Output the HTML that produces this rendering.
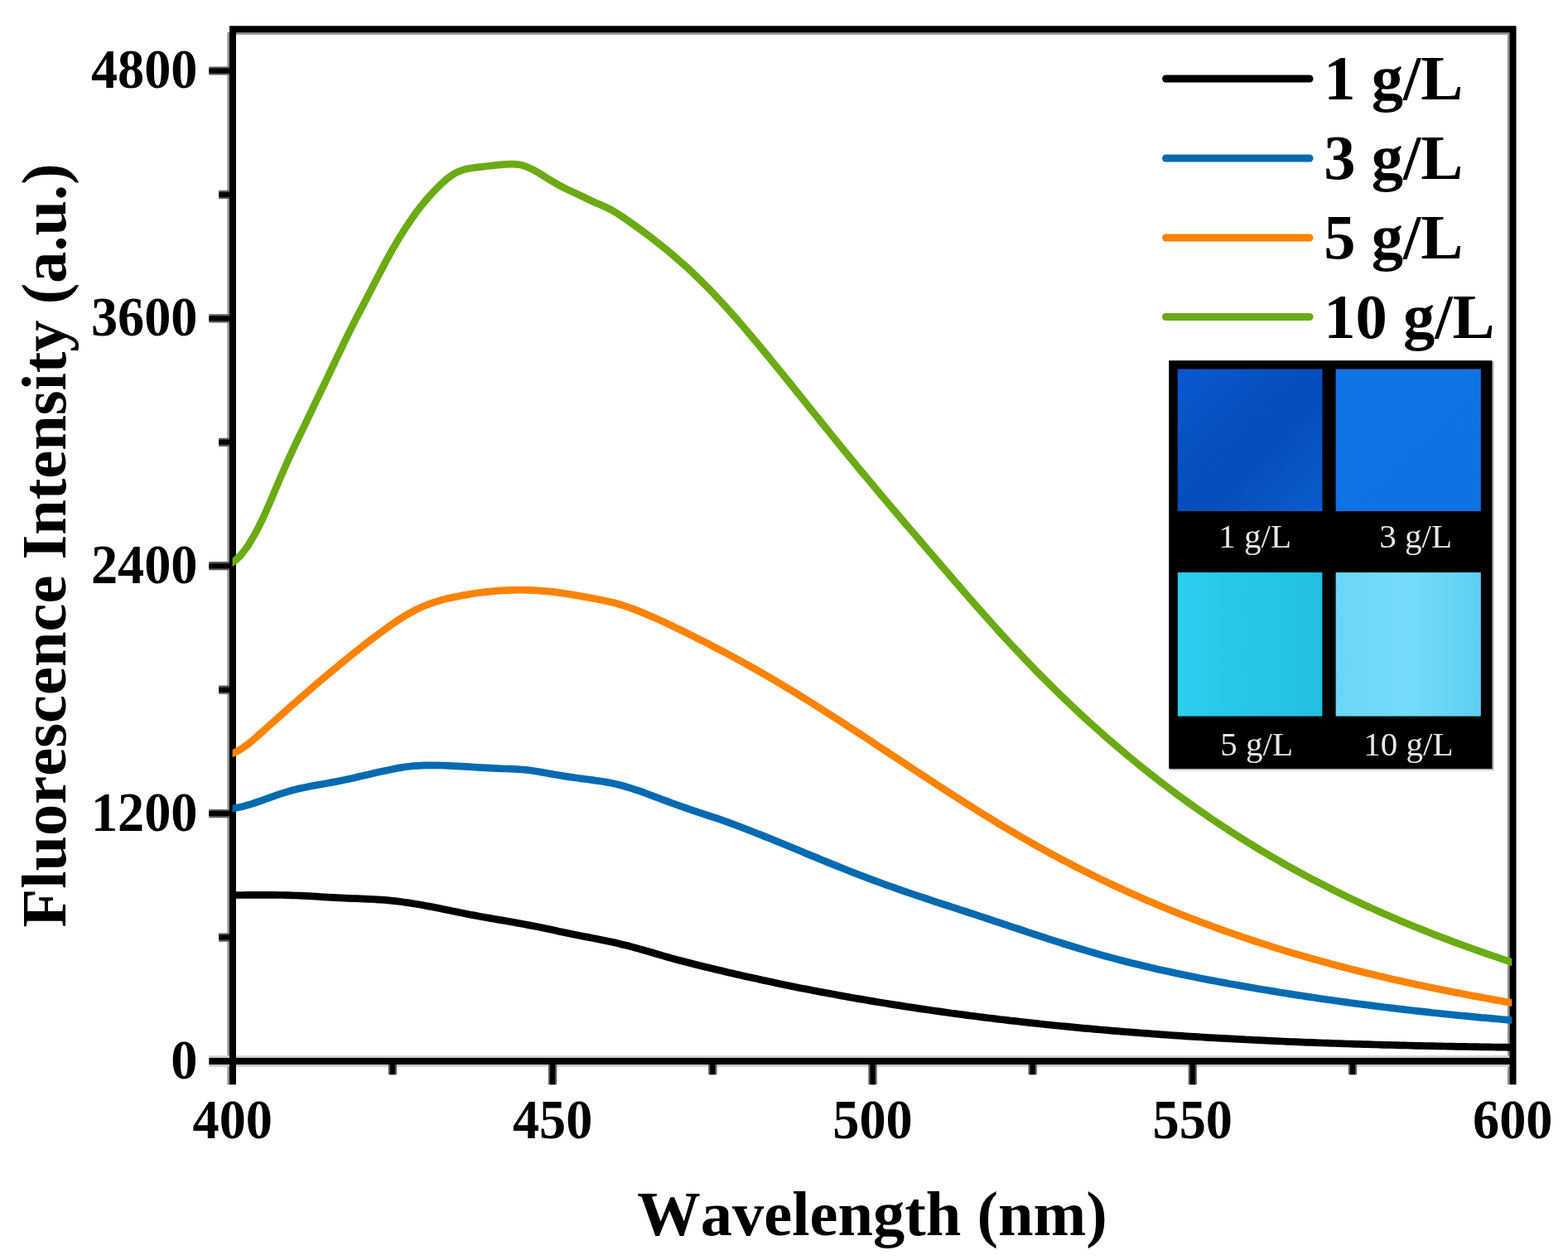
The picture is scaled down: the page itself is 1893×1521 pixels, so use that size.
<!DOCTYPE html>
<html lang="en">
<head>
<meta charset="utf-8">
<title>Fluorescence spectra</title>
<style>
html,body{margin:0;padding:0;background:#fff;}
body{width:1893px;height:1521px;overflow:hidden;position:relative;}
svg{display:block;position:absolute;left:0;top:0;filter:blur(0.6px);}
text{font-family:"Liberation Serif","Times New Roman",serif;font-kerning:none;}
.b{font-weight:bold;fill:#000;}
.tk{font-size:66.6px;}
.ti{font-size:76.5px;}
.lg{font-size:76.5px;}
.in{font-size:41px;fill:#e6e6e6;font-weight:normal;}
</style>
</head>
<body>
<svg width="1893" height="1521" viewBox="0 0 1893 1521">
<rect x="0" y="0" width="1893" height="1521" fill="#ffffff"/>

<g fill="#8f9292">
<rect x="274.4" y="39" width="2.6" height="1270.3"/>
<rect x="285" y="39.2" width="1537.5" height="2.6"/>
<rect x="1820" y="39.2" width="2.6" height="1270.1"/>
<rect x="252.3" y="1274.2" width="1570.2" height="3.2" fill="#d0d0d0"/>
<rect x="252.3" y="1284.6" width="1578.2" height="3.0" fill="#c8c8c8"/>
</g>
<g stroke="#000" stroke-width="8.0" fill="none" stroke-linecap="butt">
<path d="M252.3,982.1H281.0M252.3,683.2H281.0M252.3,384.4H281.0M252.3,85.5H281.0M264.2,1131.6H281.0M264.2,832.7H281.0M264.2,533.8H281.0M264.2,234.9H281.0M667.1,1281.0V1309.3M1053.5,1281.0V1309.3M1439.8,1281.0V1309.3M473.9,1281.0V1297.3M860.3,1281.0V1297.3M1246.6,1281.0V1297.3M1633.0,1281.0V1297.3" stroke="#5a5a55" stroke-width="10.2"/>
<path d="M252.3,982.1H281.0M252.3,683.2H281.0M252.3,384.4H281.0M252.3,85.5H281.0M264.2,1131.6H281.0M264.2,832.7H281.0M264.2,533.8H281.0M264.2,234.9H281.0M667.1,1281.0V1309.3M1053.5,1281.0V1309.3M1439.8,1281.0V1309.3M473.9,1281.0V1297.3M860.3,1281.0V1297.3M1246.6,1281.0V1297.3M1633.0,1281.0V1297.3" stroke="#000" stroke-width="6"/>
<path d="M281.0,1309.3V35.3H1826.5V1309.3M252.3,1281.0H1826.5" stroke-linejoin="miter"/>
</g>
<clipPath id="cp"><rect x="280.6" y="30" width="1544.6" height="1260"/></clipPath>
<g fill="none" stroke-width="8.7" stroke-linejoin="round" stroke-linecap="butt" clip-path="url(#cp)">
<path stroke="#000000" d="M274.0,1080.7 L278.9,1080.6 L283.8,1080.6 L288.7,1080.5 L293.5,1080.5 L298.4,1080.4 L303.3,1080.4 L308.2,1080.3 L313.1,1080.3 L318.0,1080.3 L322.8,1080.3 L327.7,1080.3 L332.6,1080.4 L337.5,1080.5 L342.4,1080.5 L347.3,1080.7 L352.1,1080.8 L357.0,1081.0 L361.9,1081.2 L366.8,1081.4 L371.7,1081.7 L376.6,1081.9 L381.4,1082.2 L386.3,1082.5 L391.2,1082.8 L396.1,1083.1 L401.0,1083.4 L405.9,1083.7 L410.8,1083.9 L415.6,1084.2 L420.5,1084.4 L425.4,1084.6 L430.3,1084.7 L435.2,1084.9 L440.1,1085.1 L444.9,1085.3 L449.8,1085.5 L454.7,1085.8 L459.6,1086.1 L464.5,1086.4 L469.4,1086.9 L474.2,1087.4 L479.1,1087.9 L484.0,1088.5 L488.9,1089.2 L493.8,1089.9 L498.7,1090.7 L503.5,1091.5 L508.4,1092.3 L513.3,1093.2 L518.2,1094.1 L523.1,1095.1 L528.0,1096.1 L532.9,1097.1 L537.7,1098.1 L542.6,1099.1 L547.5,1100.1 L552.4,1101.1 L557.3,1102.0 L562.2,1103.0 L567.0,1104.0 L571.9,1104.9 L576.8,1105.8 L581.7,1106.7 L586.6,1107.5 L591.5,1108.4 L596.3,1109.2 L601.2,1110.1 L606.1,1110.9 L611.0,1111.8 L615.9,1112.6 L620.8,1113.5 L625.6,1114.4 L630.5,1115.2 L635.4,1116.2 L640.3,1117.1 L645.2,1118.0 L650.1,1119.0 L655.0,1120.0 L659.8,1121.1 L664.7,1122.1 L669.6,1123.1 L674.5,1124.2 L679.4,1125.2 L684.3,1126.3 L689.1,1127.3 L694.0,1128.3 L698.9,1129.2 L703.8,1130.2 L708.7,1131.1 L713.6,1132.1 L718.4,1133.0 L723.3,1134.0 L728.2,1135.0 L733.1,1136.0 L738.0,1137.0 L742.9,1138.1 L747.7,1139.2 L752.6,1140.4 L757.5,1141.6 L762.4,1142.9 L767.3,1144.2 L772.2,1145.6 L777.1,1147.0 L781.9,1148.4 L786.8,1149.8 L791.7,1151.2 L796.6,1152.7 L801.5,1154.1 L806.4,1155.5 L811.2,1156.9 L816.1,1158.2 L821.0,1159.5 L825.9,1160.8 L830.8,1162.0 L835.7,1163.3 L840.5,1164.5 L845.4,1165.7 L850.3,1166.9 L855.2,1168.1 L860.1,1169.3 L865.0,1170.5 L869.8,1171.6 L874.7,1172.8 L879.6,1173.9 L884.5,1175.0 L889.4,1176.2 L894.3,1177.3 L899.2,1178.4 L904.0,1179.5 L908.9,1180.6 L913.8,1181.6 L918.7,1182.7 L923.6,1183.8 L928.5,1184.8 L933.3,1185.8 L938.2,1186.9 L943.1,1187.9 L948.0,1188.9 L952.9,1189.9 L957.8,1190.9 L962.6,1191.9 L967.5,1192.9 L972.4,1193.8 L977.3,1194.8 L982.2,1195.7 L987.1,1196.7 L991.9,1197.6 L996.8,1198.5 L1001.7,1199.4 L1006.6,1200.3 L1011.5,1201.2 L1016.4,1202.1 L1021.3,1203.0 L1026.1,1203.9 L1031.0,1204.7 L1035.9,1205.6 L1040.8,1206.4 L1045.7,1207.2 L1050.6,1208.1 L1055.4,1208.9 L1060.3,1209.7 L1065.2,1210.5 L1070.1,1211.3 L1075.0,1212.1 L1079.9,1212.9 L1084.7,1213.6 L1089.6,1214.4 L1094.5,1215.2 L1099.4,1215.9 L1104.3,1216.6 L1109.2,1217.4 L1114.1,1218.1 L1118.9,1218.8 L1123.8,1219.5 L1128.7,1220.2 L1133.6,1220.9 L1138.5,1221.6 L1143.4,1222.3 L1148.2,1223.0 L1153.1,1223.6 L1158.0,1224.3 L1162.9,1224.9 L1167.8,1225.6 L1172.7,1226.2 L1177.5,1226.8 L1182.4,1227.5 L1187.3,1228.1 L1192.2,1228.7 L1197.1,1229.3 L1202.0,1229.9 L1206.8,1230.5 L1211.7,1231.0 L1216.6,1231.6 L1221.5,1232.2 L1226.4,1232.7 L1231.3,1233.3 L1236.2,1233.8 L1241.0,1234.4 L1245.9,1234.9 L1250.8,1235.4 L1255.7,1236.0 L1260.6,1236.5 L1265.5,1237.0 L1270.3,1237.5 L1275.2,1238.0 L1280.1,1238.5 L1285.0,1238.9 L1289.9,1239.4 L1294.8,1239.9 L1299.6,1240.3 L1304.5,1240.8 L1309.4,1241.3 L1314.3,1241.7 L1319.2,1242.1 L1324.1,1242.6 L1328.9,1243.0 L1333.8,1243.4 L1338.7,1243.9 L1343.6,1244.3 L1348.5,1244.7 L1353.4,1245.1 L1358.3,1245.5 L1363.1,1245.9 L1368.0,1246.2 L1372.9,1246.6 L1377.8,1247.0 L1382.7,1247.4 L1387.6,1247.7 L1392.4,1248.1 L1397.3,1248.4 L1402.2,1248.8 L1407.1,1249.1 L1412.0,1249.5 L1416.9,1249.8 L1421.7,1250.1 L1426.6,1250.4 L1431.5,1250.8 L1436.4,1251.1 L1441.3,1251.4 L1446.2,1251.7 L1451.0,1252.0 L1455.9,1252.3 L1460.8,1252.6 L1465.7,1252.9 L1470.6,1253.1 L1475.5,1253.4 L1480.4,1253.7 L1485.2,1253.9 L1490.1,1254.2 L1495.0,1254.5 L1499.9,1254.7 L1504.8,1255.0 L1509.7,1255.2 L1514.5,1255.5 L1519.4,1255.7 L1524.3,1255.9 L1529.2,1256.2 L1534.1,1256.4 L1539.0,1256.6 L1543.8,1256.8 L1548.7,1257.0 L1553.6,1257.3 L1558.5,1257.5 L1563.4,1257.7 L1568.3,1257.9 L1573.1,1258.1 L1578.0,1258.3 L1582.9,1258.4 L1587.8,1258.6 L1592.7,1258.8 L1597.6,1259.0 L1602.5,1259.2 L1607.3,1259.3 L1612.2,1259.5 L1617.1,1259.7 L1622.0,1259.8 L1626.9,1260.0 L1631.8,1260.1 L1636.6,1260.3 L1641.5,1260.4 L1646.4,1260.6 L1651.3,1260.7 L1656.2,1260.9 L1661.1,1261.0 L1665.9,1261.2 L1670.8,1261.3 L1675.7,1261.4 L1680.6,1261.5 L1685.5,1261.7 L1690.4,1261.8 L1695.2,1261.9 L1700.1,1262.0 L1705.0,1262.1 L1709.9,1262.3 L1714.8,1262.4 L1719.7,1262.5 L1724.6,1262.6 L1729.4,1262.7 L1734.3,1262.8 L1739.2,1262.9 L1744.1,1263.0 L1749.0,1263.1 L1753.9,1263.2 L1758.7,1263.3 L1763.6,1263.4 L1768.5,1263.4 L1773.4,1263.5 L1778.3,1263.6 L1783.2,1263.7 L1788.0,1263.8 L1792.9,1263.9 L1797.8,1263.9 L1802.7,1264.0 L1807.6,1264.1 L1812.5,1264.2 L1817.3,1264.2 L1822.2,1264.3 L1827.1,1264.4 L1832.0,1264.4"/>
<path stroke="#036ab2" d="M274.0,976.9 L278.9,976.2 L283.8,975.5 L288.7,974.5 L293.5,973.4 L298.4,972.0 L303.3,970.6 L308.2,969.0 L313.1,967.3 L318.0,965.6 L322.8,963.8 L327.7,962.1 L332.6,960.3 L337.5,958.6 L342.4,957.1 L347.3,955.6 L352.1,954.2 L357.0,953.0 L361.9,951.8 L366.8,950.8 L371.7,949.8 L376.6,948.8 L381.4,947.9 L386.3,947.0 L391.2,946.2 L396.1,945.3 L401.0,944.4 L405.9,943.5 L410.8,942.5 L415.6,941.5 L420.5,940.4 L425.4,939.4 L430.3,938.3 L435.2,937.1 L440.1,936.0 L444.9,934.9 L449.8,933.7 L454.7,932.6 L459.6,931.5 L464.5,930.4 L469.4,929.4 L474.2,928.4 L479.1,927.4 L484.0,926.6 L488.9,925.8 L493.8,925.2 L498.7,924.7 L503.5,924.3 L508.4,924.1 L513.3,923.9 L518.2,923.8 L523.1,923.8 L528.0,923.9 L532.9,924.0 L537.7,924.2 L542.6,924.4 L547.5,924.6 L552.4,924.9 L557.3,925.1 L562.2,925.4 L567.0,925.7 L571.9,926.0 L576.8,926.3 L581.7,926.6 L586.6,926.9 L591.5,927.1 L596.3,927.4 L601.2,927.6 L606.1,927.8 L611.0,928.0 L615.9,928.1 L620.8,928.4 L625.6,928.6 L630.5,929.0 L635.4,929.4 L640.3,930.0 L645.2,930.7 L650.1,931.5 L655.0,932.4 L659.8,933.2 L664.7,934.1 L669.6,935.0 L674.5,935.8 L679.4,936.6 L684.3,937.4 L689.1,938.1 L694.0,938.8 L698.9,939.5 L703.8,940.1 L708.7,940.8 L713.6,941.4 L718.4,942.1 L723.3,942.8 L728.2,943.5 L733.1,944.4 L738.0,945.3 L742.9,946.3 L747.7,947.5 L752.6,948.8 L757.5,950.2 L762.4,951.7 L767.3,953.3 L772.2,954.9 L777.1,956.7 L781.9,958.5 L786.8,960.3 L791.7,962.1 L796.6,964.0 L801.5,965.8 L806.4,967.6 L811.2,969.5 L816.1,971.2 L821.0,973.0 L825.9,974.7 L830.8,976.4 L835.7,978.1 L840.5,979.7 L845.4,981.3 L850.3,982.9 L855.2,984.5 L860.1,986.1 L865.0,987.7 L869.8,989.4 L874.7,991.1 L879.6,992.9 L884.5,994.7 L889.4,996.5 L894.3,998.4 L899.2,1000.3 L904.0,1002.1 L908.9,1004.0 L913.8,1006.0 L918.7,1007.9 L923.6,1009.9 L928.5,1011.8 L933.3,1013.8 L938.2,1015.8 L943.1,1017.8 L948.0,1019.8 L952.9,1021.8 L957.8,1023.8 L962.6,1025.8 L967.5,1027.8 L972.4,1029.9 L977.3,1031.9 L982.2,1033.9 L987.1,1035.9 L991.9,1037.9 L996.8,1039.9 L1001.7,1041.9 L1006.6,1043.9 L1011.5,1045.9 L1016.4,1047.8 L1021.3,1049.8 L1026.1,1051.7 L1031.0,1053.6 L1035.9,1055.5 L1040.8,1057.4 L1045.7,1059.3 L1050.6,1061.1 L1055.4,1062.9 L1060.3,1064.7 L1065.2,1066.5 L1070.1,1068.3 L1075.0,1070.0 L1079.9,1071.7 L1084.7,1073.4 L1089.6,1075.1 L1094.5,1076.8 L1099.4,1078.5 L1104.3,1080.1 L1109.2,1081.8 L1114.1,1083.4 L1118.9,1085.0 L1123.8,1086.6 L1128.7,1088.3 L1133.6,1089.9 L1138.5,1091.5 L1143.4,1093.0 L1148.2,1094.6 L1153.1,1096.2 L1158.0,1097.8 L1162.9,1099.4 L1167.8,1101.0 L1172.7,1102.6 L1177.5,1104.2 L1182.4,1105.8 L1187.3,1107.4 L1192.2,1109.0 L1197.1,1110.7 L1202.0,1112.3 L1206.8,1113.9 L1211.7,1115.5 L1216.6,1117.2 L1221.5,1118.8 L1226.4,1120.4 L1231.3,1122.0 L1236.2,1123.7 L1241.0,1125.3 L1245.9,1126.9 L1250.8,1128.5 L1255.7,1130.1 L1260.6,1131.7 L1265.5,1133.3 L1270.3,1134.8 L1275.2,1136.4 L1280.1,1137.9 L1285.0,1139.5 L1289.9,1141.0 L1294.8,1142.5 L1299.6,1144.0 L1304.5,1145.5 L1309.4,1146.9 L1314.3,1148.4 L1319.2,1149.8 L1324.1,1151.2 L1328.9,1152.6 L1333.8,1154.0 L1338.7,1155.3 L1343.6,1156.6 L1348.5,1157.9 L1353.4,1159.2 L1358.3,1160.5 L1363.1,1161.7 L1368.0,1162.9 L1372.9,1164.1 L1377.8,1165.3 L1382.7,1166.5 L1387.6,1167.6 L1392.4,1168.8 L1397.3,1169.9 L1402.2,1171.0 L1407.1,1172.1 L1412.0,1173.1 L1416.9,1174.2 L1421.7,1175.2 L1426.6,1176.3 L1431.5,1177.3 L1436.4,1178.3 L1441.3,1179.3 L1446.2,1180.2 L1451.0,1181.2 L1455.9,1182.2 L1460.8,1183.1 L1465.7,1184.0 L1470.6,1185.0 L1475.5,1185.9 L1480.4,1186.8 L1485.2,1187.7 L1490.1,1188.5 L1495.0,1189.4 L1499.9,1190.3 L1504.8,1191.1 L1509.7,1192.0 L1514.5,1192.8 L1519.4,1193.7 L1524.3,1194.5 L1529.2,1195.3 L1534.1,1196.1 L1539.0,1196.9 L1543.8,1197.7 L1548.7,1198.5 L1553.6,1199.3 L1558.5,1200.1 L1563.4,1200.8 L1568.3,1201.6 L1573.1,1202.3 L1578.0,1203.1 L1582.9,1203.8 L1587.8,1204.5 L1592.7,1205.2 L1597.6,1206.0 L1602.5,1206.7 L1607.3,1207.3 L1612.2,1208.0 L1617.1,1208.7 L1622.0,1209.4 L1626.9,1210.1 L1631.8,1210.7 L1636.6,1211.4 L1641.5,1212.0 L1646.4,1212.6 L1651.3,1213.3 L1656.2,1213.9 L1661.1,1214.5 L1665.9,1215.1 L1670.8,1215.7 L1675.7,1216.3 L1680.6,1216.9 L1685.5,1217.5 L1690.4,1218.1 L1695.2,1218.6 L1700.1,1219.2 L1705.0,1219.8 L1709.9,1220.3 L1714.8,1220.9 L1719.7,1221.4 L1724.6,1221.9 L1729.4,1222.5 L1734.3,1223.0 L1739.2,1223.5 L1744.1,1224.0 L1749.0,1224.5 L1753.9,1225.0 L1758.7,1225.5 L1763.6,1226.0 L1768.5,1226.4 L1773.4,1226.9 L1778.3,1227.4 L1783.2,1227.8 L1788.0,1228.3 L1792.9,1228.7 L1797.8,1229.2 L1802.7,1229.6 L1807.6,1230.0 L1812.5,1230.5 L1817.3,1230.9 L1822.2,1231.3 L1827.1,1231.7 L1832.0,1232.1"/>
<path stroke="#ff8302" d="M274.0,911.8 L278.9,910.1 L283.8,908.2 L288.7,905.7 L293.5,902.6 L298.4,899.0 L303.3,895.1 L308.2,891.0 L313.1,886.6 L318.0,882.3 L322.8,877.9 L327.7,873.5 L332.6,869.2 L337.5,864.8 L342.4,860.5 L347.3,856.1 L352.1,851.8 L357.0,847.5 L361.9,843.2 L366.8,839.0 L371.7,834.7 L376.6,830.5 L381.4,826.3 L386.3,822.2 L391.2,818.0 L396.1,813.9 L401.0,809.8 L405.9,805.8 L410.8,801.7 L415.6,797.8 L420.5,793.8 L425.4,789.9 L430.3,786.0 L435.2,782.1 L440.1,778.3 L444.9,774.5 L449.8,770.8 L454.7,767.1 L459.6,763.5 L464.5,759.9 L469.4,756.4 L474.2,753.0 L479.1,749.7 L484.0,746.5 L488.9,743.4 L493.8,740.6 L498.7,737.9 L503.5,735.4 L508.4,733.1 L513.3,731.0 L518.2,729.1 L523.1,727.4 L528.0,725.8 L532.9,724.4 L537.7,723.1 L542.6,721.9 L547.5,720.9 L552.4,719.9 L557.3,718.9 L562.2,718.1 L567.0,717.2 L571.9,716.5 L576.8,715.8 L581.7,715.2 L586.6,714.6 L591.5,714.1 L596.3,713.6 L601.2,713.2 L606.1,712.9 L611.0,712.6 L615.9,712.4 L620.8,712.3 L625.6,712.2 L630.5,712.2 L635.4,712.3 L640.3,712.4 L645.2,712.6 L650.1,712.9 L655.0,713.3 L659.8,713.7 L664.7,714.2 L669.6,714.7 L674.5,715.4 L679.4,716.1 L684.3,716.8 L689.1,717.6 L694.0,718.4 L698.9,719.3 L703.8,720.1 L708.7,721.0 L713.6,721.9 L718.4,722.8 L723.3,723.8 L728.2,724.7 L733.1,725.8 L738.0,726.9 L742.9,728.1 L747.7,729.5 L752.6,731.0 L757.5,732.7 L762.4,734.4 L767.3,736.2 L772.2,738.1 L777.1,740.1 L781.9,742.2 L786.8,744.2 L791.7,746.4 L796.6,748.6 L801.5,750.8 L806.4,753.1 L811.2,755.4 L816.1,757.8 L821.0,760.1 L825.9,762.5 L830.8,764.9 L835.7,767.4 L840.5,769.8 L845.4,772.3 L850.3,774.7 L855.2,777.2 L860.1,779.8 L865.0,782.3 L869.8,784.9 L874.7,787.4 L879.6,790.0 L884.5,792.7 L889.4,795.3 L894.3,798.0 L899.2,800.7 L904.0,803.4 L908.9,806.1 L913.8,808.9 L918.7,811.7 L923.6,814.5 L928.5,817.3 L933.3,820.2 L938.2,823.1 L943.1,826.0 L948.0,828.9 L952.9,831.9 L957.8,834.8 L962.6,837.8 L967.5,840.8 L972.4,843.9 L977.3,846.9 L982.2,850.0 L987.1,853.1 L991.9,856.2 L996.8,859.3 L1001.7,862.4 L1006.6,865.5 L1011.5,868.7 L1016.4,871.8 L1021.3,875.0 L1026.1,878.2 L1031.0,881.3 L1035.9,884.5 L1040.8,887.7 L1045.7,890.9 L1050.6,894.2 L1055.4,897.4 L1060.3,900.6 L1065.2,903.8 L1070.1,907.0 L1075.0,910.3 L1079.9,913.5 L1084.7,916.7 L1089.6,919.9 L1094.5,923.2 L1099.4,926.4 L1104.3,929.6 L1109.2,932.8 L1114.1,936.0 L1118.9,939.2 L1123.8,942.4 L1128.7,945.6 L1133.6,948.8 L1138.5,952.0 L1143.4,955.1 L1148.2,958.3 L1153.1,961.4 L1158.0,964.5 L1162.9,967.6 L1167.8,970.7 L1172.7,973.8 L1177.5,976.9 L1182.4,980.0 L1187.3,983.0 L1192.2,986.0 L1197.1,989.0 L1202.0,992.0 L1206.8,995.0 L1211.7,997.9 L1216.6,1000.8 L1221.5,1003.7 L1226.4,1006.6 L1231.3,1009.5 L1236.2,1012.3 L1241.0,1015.1 L1245.9,1017.9 L1250.8,1020.6 L1255.7,1023.3 L1260.6,1026.0 L1265.5,1028.7 L1270.3,1031.4 L1275.2,1034.0 L1280.1,1036.6 L1285.0,1039.2 L1289.9,1041.7 L1294.8,1044.3 L1299.6,1046.8 L1304.5,1049.2 L1309.4,1051.7 L1314.3,1054.1 L1319.2,1056.6 L1324.1,1058.9 L1328.9,1061.3 L1333.8,1063.7 L1338.7,1066.0 L1343.6,1068.3 L1348.5,1070.6 L1353.4,1072.8 L1358.3,1075.1 L1363.1,1077.3 L1368.0,1079.5 L1372.9,1081.6 L1377.8,1083.8 L1382.7,1085.9 L1387.6,1088.0 L1392.4,1090.1 L1397.3,1092.2 L1402.2,1094.2 L1407.1,1096.3 L1412.0,1098.3 L1416.9,1100.2 L1421.7,1102.2 L1426.6,1104.2 L1431.5,1106.1 L1436.4,1108.0 L1441.3,1109.9 L1446.2,1111.7 L1451.0,1113.6 L1455.9,1115.4 L1460.8,1117.2 L1465.7,1119.0 L1470.6,1120.8 L1475.5,1122.6 L1480.4,1124.3 L1485.2,1126.0 L1490.1,1127.7 L1495.0,1129.4 L1499.9,1131.1 L1504.8,1132.7 L1509.7,1134.4 L1514.5,1136.0 L1519.4,1137.6 L1524.3,1139.2 L1529.2,1140.7 L1534.1,1142.3 L1539.0,1143.8 L1543.8,1145.3 L1548.7,1146.8 L1553.6,1148.3 L1558.5,1149.8 L1563.4,1151.2 L1568.3,1152.7 L1573.1,1154.1 L1578.0,1155.5 L1582.9,1156.9 L1587.8,1158.3 L1592.7,1159.6 L1597.6,1161.0 L1602.5,1162.3 L1607.3,1163.7 L1612.2,1165.0 L1617.1,1166.3 L1622.0,1167.5 L1626.9,1168.8 L1631.8,1170.1 L1636.6,1171.3 L1641.5,1172.5 L1646.4,1173.7 L1651.3,1174.9 L1656.2,1176.1 L1661.1,1177.3 L1665.9,1178.5 L1670.8,1179.6 L1675.7,1180.7 L1680.6,1181.9 L1685.5,1183.0 L1690.4,1184.1 L1695.2,1185.2 L1700.1,1186.3 L1705.0,1187.3 L1709.9,1188.4 L1714.8,1189.4 L1719.7,1190.5 L1724.6,1191.5 L1729.4,1192.5 L1734.3,1193.5 L1739.2,1194.5 L1744.1,1195.5 L1749.0,1196.5 L1753.9,1197.4 L1758.7,1198.4 L1763.6,1199.3 L1768.5,1200.3 L1773.4,1201.2 L1778.3,1202.1 L1783.2,1203.0 L1788.0,1203.9 L1792.9,1204.8 L1797.8,1205.7 L1802.7,1206.6 L1807.6,1207.5 L1812.5,1208.3 L1817.3,1209.2 L1822.2,1210.0 L1827.1,1210.8 L1832.0,1211.7"/>
<path stroke="#6aab14" d="M274.0,682.7 L278.9,679.8 L283.8,676.7 L288.7,672.3 L293.5,666.7 L298.4,660.1 L303.3,652.4 L308.2,643.8 L313.1,634.4 L318.0,624.3 L322.8,613.5 L327.7,602.2 L332.6,590.6 L337.5,579.0 L342.4,567.6 L347.3,556.7 L352.1,546.1 L357.0,535.7 L361.9,525.5 L366.8,515.4 L371.7,505.2 L376.6,494.9 L381.4,484.7 L386.3,474.6 L391.2,464.4 L396.1,454.2 L401.0,443.9 L405.9,433.5 L410.8,423.3 L415.6,413.1 L420.5,403.2 L425.4,393.4 L430.3,383.8 L435.2,374.4 L440.1,365.1 L444.9,355.8 L449.8,346.3 L454.7,336.8 L459.6,327.4 L464.5,318.1 L469.4,309.1 L474.2,300.4 L479.1,292.1 L484.0,284.0 L488.9,276.2 L493.8,268.8 L498.7,261.7 L503.5,255.0 L508.4,248.7 L513.3,242.7 L518.2,237.1 L523.1,231.8 L528.0,226.7 L532.9,221.9 L537.7,217.5 L542.6,213.6 L547.5,210.2 L552.4,207.6 L557.3,205.7 L562.2,204.2 L567.0,203.2 L571.9,202.5 L576.8,201.9 L581.7,201.4 L586.6,200.8 L591.5,200.2 L596.3,199.6 L601.2,199.1 L606.1,198.6 L611.0,198.3 L615.9,198.1 L620.8,198.2 L625.6,198.6 L630.5,199.6 L635.4,201.2 L640.3,203.3 L645.2,205.7 L650.1,208.5 L655.0,211.5 L659.8,214.6 L664.7,217.7 L669.6,220.6 L674.5,223.4 L679.4,225.9 L684.3,228.3 L689.1,230.6 L694.0,232.9 L698.9,235.2 L703.8,237.5 L708.7,239.9 L713.6,242.2 L718.4,244.5 L723.3,246.6 L728.2,248.6 L733.1,250.8 L738.0,253.4 L742.9,256.2 L747.7,259.3 L752.6,262.5 L757.5,265.9 L762.4,269.4 L767.3,272.9 L772.2,276.4 L777.1,280.0 L781.9,283.6 L786.8,287.3 L791.7,291.1 L796.6,295.0 L801.5,298.9 L806.4,302.9 L811.2,306.9 L816.1,311.1 L821.0,315.4 L825.9,319.7 L830.8,324.1 L835.7,328.7 L840.5,333.3 L845.4,338.1 L850.3,343.0 L855.2,347.9 L860.1,353.0 L865.0,358.2 L869.8,363.4 L874.7,368.7 L879.6,374.1 L884.5,379.6 L889.4,385.2 L894.3,390.8 L899.2,396.5 L904.0,402.2 L908.9,408.0 L913.8,413.8 L918.7,419.7 L923.6,425.6 L928.5,431.5 L933.3,437.5 L938.2,443.5 L943.1,449.5 L948.0,455.6 L952.9,461.6 L957.8,467.7 L962.6,473.8 L967.5,479.8 L972.4,485.9 L977.3,492.0 L982.2,498.1 L987.1,504.1 L991.9,510.2 L996.8,516.3 L1001.7,522.3 L1006.6,528.4 L1011.5,534.4 L1016.4,540.4 L1021.3,546.4 L1026.1,552.3 L1031.0,558.3 L1035.9,564.2 L1040.8,570.1 L1045.7,576.0 L1050.6,581.8 L1055.4,587.6 L1060.3,593.5 L1065.2,599.3 L1070.1,605.0 L1075.0,610.8 L1079.9,616.6 L1084.7,622.3 L1089.6,628.1 L1094.5,633.8 L1099.4,639.5 L1104.3,645.2 L1109.2,650.9 L1114.1,656.6 L1118.9,662.3 L1123.8,668.0 L1128.7,673.7 L1133.6,679.4 L1138.5,685.1 L1143.4,690.7 L1148.2,696.4 L1153.1,702.1 L1158.0,707.7 L1162.9,713.4 L1167.8,719.0 L1172.7,724.6 L1177.5,730.2 L1182.4,735.7 L1187.3,741.2 L1192.2,746.7 L1197.1,752.2 L1202.0,757.6 L1206.8,763.0 L1211.7,768.3 L1216.6,773.6 L1221.5,778.9 L1226.4,784.1 L1231.3,789.3 L1236.2,794.4 L1241.0,799.5 L1245.9,804.6 L1250.8,809.6 L1255.7,814.6 L1260.6,819.5 L1265.5,824.4 L1270.3,829.2 L1275.2,834.0 L1280.1,838.8 L1285.0,843.5 L1289.9,848.2 L1294.8,852.8 L1299.6,857.4 L1304.5,862.0 L1309.4,866.5 L1314.3,870.9 L1319.2,875.4 L1324.1,879.8 L1328.9,884.1 L1333.8,888.4 L1338.7,892.7 L1343.6,896.9 L1348.5,901.1 L1353.4,905.3 L1358.3,909.4 L1363.1,913.5 L1368.0,917.5 L1372.9,921.5 L1377.8,925.5 L1382.7,929.4 L1387.6,933.3 L1392.4,937.1 L1397.3,940.9 L1402.2,944.7 L1407.1,948.4 L1412.0,952.1 L1416.9,955.8 L1421.7,959.4 L1426.6,963.0 L1431.5,966.6 L1436.4,970.1 L1441.3,973.6 L1446.2,977.0 L1451.0,980.4 L1455.9,983.8 L1460.8,987.2 L1465.7,990.5 L1470.6,993.7 L1475.5,997.0 L1480.4,1000.2 L1485.2,1003.4 L1490.1,1006.5 L1495.0,1009.7 L1499.9,1012.7 L1504.8,1015.8 L1509.7,1018.8 L1514.5,1021.8 L1519.4,1024.8 L1524.3,1027.7 L1529.2,1030.6 L1534.1,1033.5 L1539.0,1036.3 L1543.8,1039.1 L1548.7,1041.9 L1553.6,1044.7 L1558.5,1047.4 L1563.4,1050.1 L1568.3,1052.8 L1573.1,1055.4 L1578.0,1058.0 L1582.9,1060.6 L1587.8,1063.2 L1592.7,1065.7 L1597.6,1068.2 L1602.5,1070.7 L1607.3,1073.2 L1612.2,1075.6 L1617.1,1078.0 L1622.0,1080.4 L1626.9,1082.8 L1631.8,1085.1 L1636.6,1087.4 L1641.5,1089.7 L1646.4,1092.0 L1651.3,1094.2 L1656.2,1096.4 L1661.1,1098.6 L1665.9,1100.8 L1670.8,1103.0 L1675.7,1105.1 L1680.6,1107.2 L1685.5,1109.3 L1690.4,1111.4 L1695.2,1113.4 L1700.1,1115.5 L1705.0,1117.5 L1709.9,1119.5 L1714.8,1121.4 L1719.7,1123.4 L1724.6,1125.3 L1729.4,1127.2 L1734.3,1129.1 L1739.2,1131.0 L1744.1,1132.9 L1749.0,1134.7 L1753.9,1136.6 L1758.7,1138.4 L1763.6,1140.2 L1768.5,1142.0 L1773.4,1143.7 L1778.3,1145.5 L1783.2,1147.2 L1788.0,1148.9 L1792.9,1150.6 L1797.8,1152.3 L1802.7,1154.0 L1807.6,1155.7 L1812.5,1157.3 L1817.3,1158.9 L1822.2,1160.6 L1827.1,1162.2 L1832.0,1163.8"/>
</g>
<text class="b tk" transform="translate(238.5,1301.8) scale(0.965,1)" text-anchor="end">0</text>
<text class="b tk" transform="translate(238.5,1002.9) scale(0.965,1)" text-anchor="end">1200</text>
<text class="b tk" transform="translate(238.5,704.0) scale(0.965,1)" text-anchor="end">2400</text>
<text class="b tk" transform="translate(238.5,405.2) scale(0.965,1)" text-anchor="end">3600</text>
<text class="b tk" transform="translate(238.5,106.3) scale(0.965,1)" text-anchor="end">4800</text>
<text class="b tk" transform="translate(280.7,1373.8) scale(0.965,1)" text-anchor="middle">400</text>
<text class="b tk" transform="translate(667.1,1373.8) scale(0.965,1)" text-anchor="middle">450</text>
<text class="b tk" transform="translate(1053.5,1373.8) scale(0.965,1)" text-anchor="middle">500</text>
<text class="b tk" transform="translate(1439.8,1373.8) scale(0.965,1)" text-anchor="middle">550</text>
<text class="b tk" transform="translate(1826.2,1373.8) scale(0.965,1)" text-anchor="middle">600</text>
<text class="b ti" x="1053" y="1491" text-anchor="middle">Wavelength (nm)</text>
<text class="b ti" transform="translate(78.6,658.4) rotate(-90) scale(1,1)" text-anchor="middle">Fluorescence Intensity (a.u.)</text>
<line x1="1407.5" y1="95" x2="1581" y2="95" stroke="#000000" stroke-width="9" stroke-linecap="round"/>
<text class="b lg" x="1598.3" y="120.3">1 g/L</text>
<line x1="1407.5" y1="191" x2="1581" y2="191" stroke="#036ab2" stroke-width="9" stroke-linecap="round"/>
<text class="b lg" x="1598.3" y="216.3">3 g/L</text>
<line x1="1407.5" y1="287" x2="1581" y2="287" stroke="#ff8302" stroke-width="9" stroke-linecap="round"/>
<text class="b lg" x="1598.3" y="312.3">5 g/L</text>
<line x1="1407.5" y1="382.5" x2="1581" y2="382.5" stroke="#6aab14" stroke-width="9" stroke-linecap="round"/>
<text class="b lg" x="1598.3" y="407.8">10 g/L</text>
<defs>
<linearGradient id="g1" x1="0" y1="0" x2="1" y2="1"><stop offset="0" stop-color="#0a58d0"/><stop offset="0.55" stop-color="#064cba"/><stop offset="1" stop-color="#0c5cce"/></linearGradient>
<linearGradient id="g2" x1="0" y1="0" x2="1" y2="1"><stop offset="0" stop-color="#0f74e6"/><stop offset="1" stop-color="#0e72e4"/></linearGradient>
<linearGradient id="g3" x1="0" y1="0" x2="1" y2="0"><stop offset="0" stop-color="#2ccdee"/><stop offset="1" stop-color="#22bfe0"/></linearGradient>
<linearGradient id="g4" x1="0" y1="0" x2="1" y2="0"><stop offset="0" stop-color="#6ad6f6"/><stop offset="0.5" stop-color="#74dcfa"/><stop offset="1" stop-color="#5ccff4"/></linearGradient>
</defs>
<rect x="1412.5" y="436.5" width="391" height="493.3" fill="#b4b4b4"/>
<rect x="1411.2" y="435.2" width="390.2" height="492.8" fill="#000"/>
<rect x="1421.8" y="445.5" width="174.6" height="171.6" fill="url(#g1)"/>
<rect x="1612.6" y="445.5" width="175.2" height="171.6" fill="url(#g2)"/>
<rect x="1421.8" y="691" width="174.6" height="173.6" fill="url(#g3)"/>
<rect x="1612.6" y="691" width="175.2" height="173.6" fill="url(#g4)"/>
<text class="in" x="1559" y="660.8" text-anchor="end">1 g/L</text>
<text class="in" x="1753" y="660.8" text-anchor="end">3 g/L</text>
<text class="in" x="1561" y="911.5" text-anchor="end">5 g/L</text>
<text class="in" x="1754.5" y="911.5" text-anchor="end">10 g/L</text>
</svg>
</body>
</html>
